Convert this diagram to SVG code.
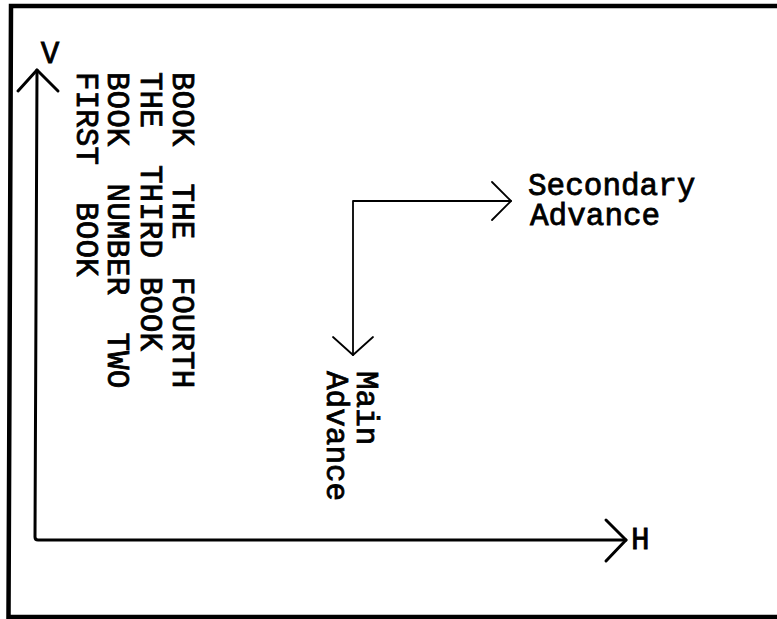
<svg xmlns="http://www.w3.org/2000/svg" width="777" height="619" viewBox="0 0 777 619">
<style>
.t{font-family:"Liberation Mono","Courier New",monospace;font-size:31px;fill:#000;white-space:pre;stroke:#000;stroke-width:0.8}
.ax{stroke:#000;stroke-width:3;fill:none;stroke-linecap:round;stroke-linejoin:round}
.ar{stroke:#000;stroke-width:1.8;fill:none;stroke-linecap:round;stroke-linejoin:round}
.fr{stroke:#000;stroke-width:4.5;fill:none}
</style>
<rect width="777" height="619" fill="#fff"/>
<g id="frame">
<path class="fr" d="M780 6 L11 6 L8.5 617 L780 617"/>
</g>
<g id="connectors">
<path class="ax" d="M37 70 L35 537 Q35 540 38 540 L626 540"/>
<path class="ax" d="M18 91 L37 70 L58 91"/>
<path class="ax" d="M606 520 L626 540 L606 561"/>
<path class="ar" d="M353 355 L353 201 L511 201"/>
<path class="ar" d="M492 182 L511 201 L492 220"/>
<path class="ar" d="M333 337 L353 355 L373 337"/>
</g>
<g id="axis-v">
<text class="t" x="50" y="63" text-anchor="middle" font-size="29">V</text>
</g>
<g id="axis-h">
<text class="t" x="631" y="549" font-size="33">H</text>
</g>
<g id="books">
<text class="t" xml:space="preserve" transform="translate(173,72) rotate(90)">BOOK  THE  FOURTH</text>
<text class="t" xml:space="preserve" transform="translate(141,72) rotate(90)">THE  THIRD BOOK</text>
<text class="t" xml:space="preserve" transform="translate(108,72) rotate(90)">BOOK  NUMBER  TWO</text>
<text class="t" xml:space="preserve" transform="translate(77,72) rotate(90)">FIRST  BOOK</text>
</g>
<g id="secondary-advance">
<text class="t" x="528" y="195">Secondary</text>
<text class="t" x="530" y="225">Advance</text>
</g>
<g id="main-advance">
<text class="t" transform="translate(357,371) rotate(90)">Main</text>
<text class="t" transform="translate(327,371) rotate(90)">Advance</text>
</g>
</svg>
